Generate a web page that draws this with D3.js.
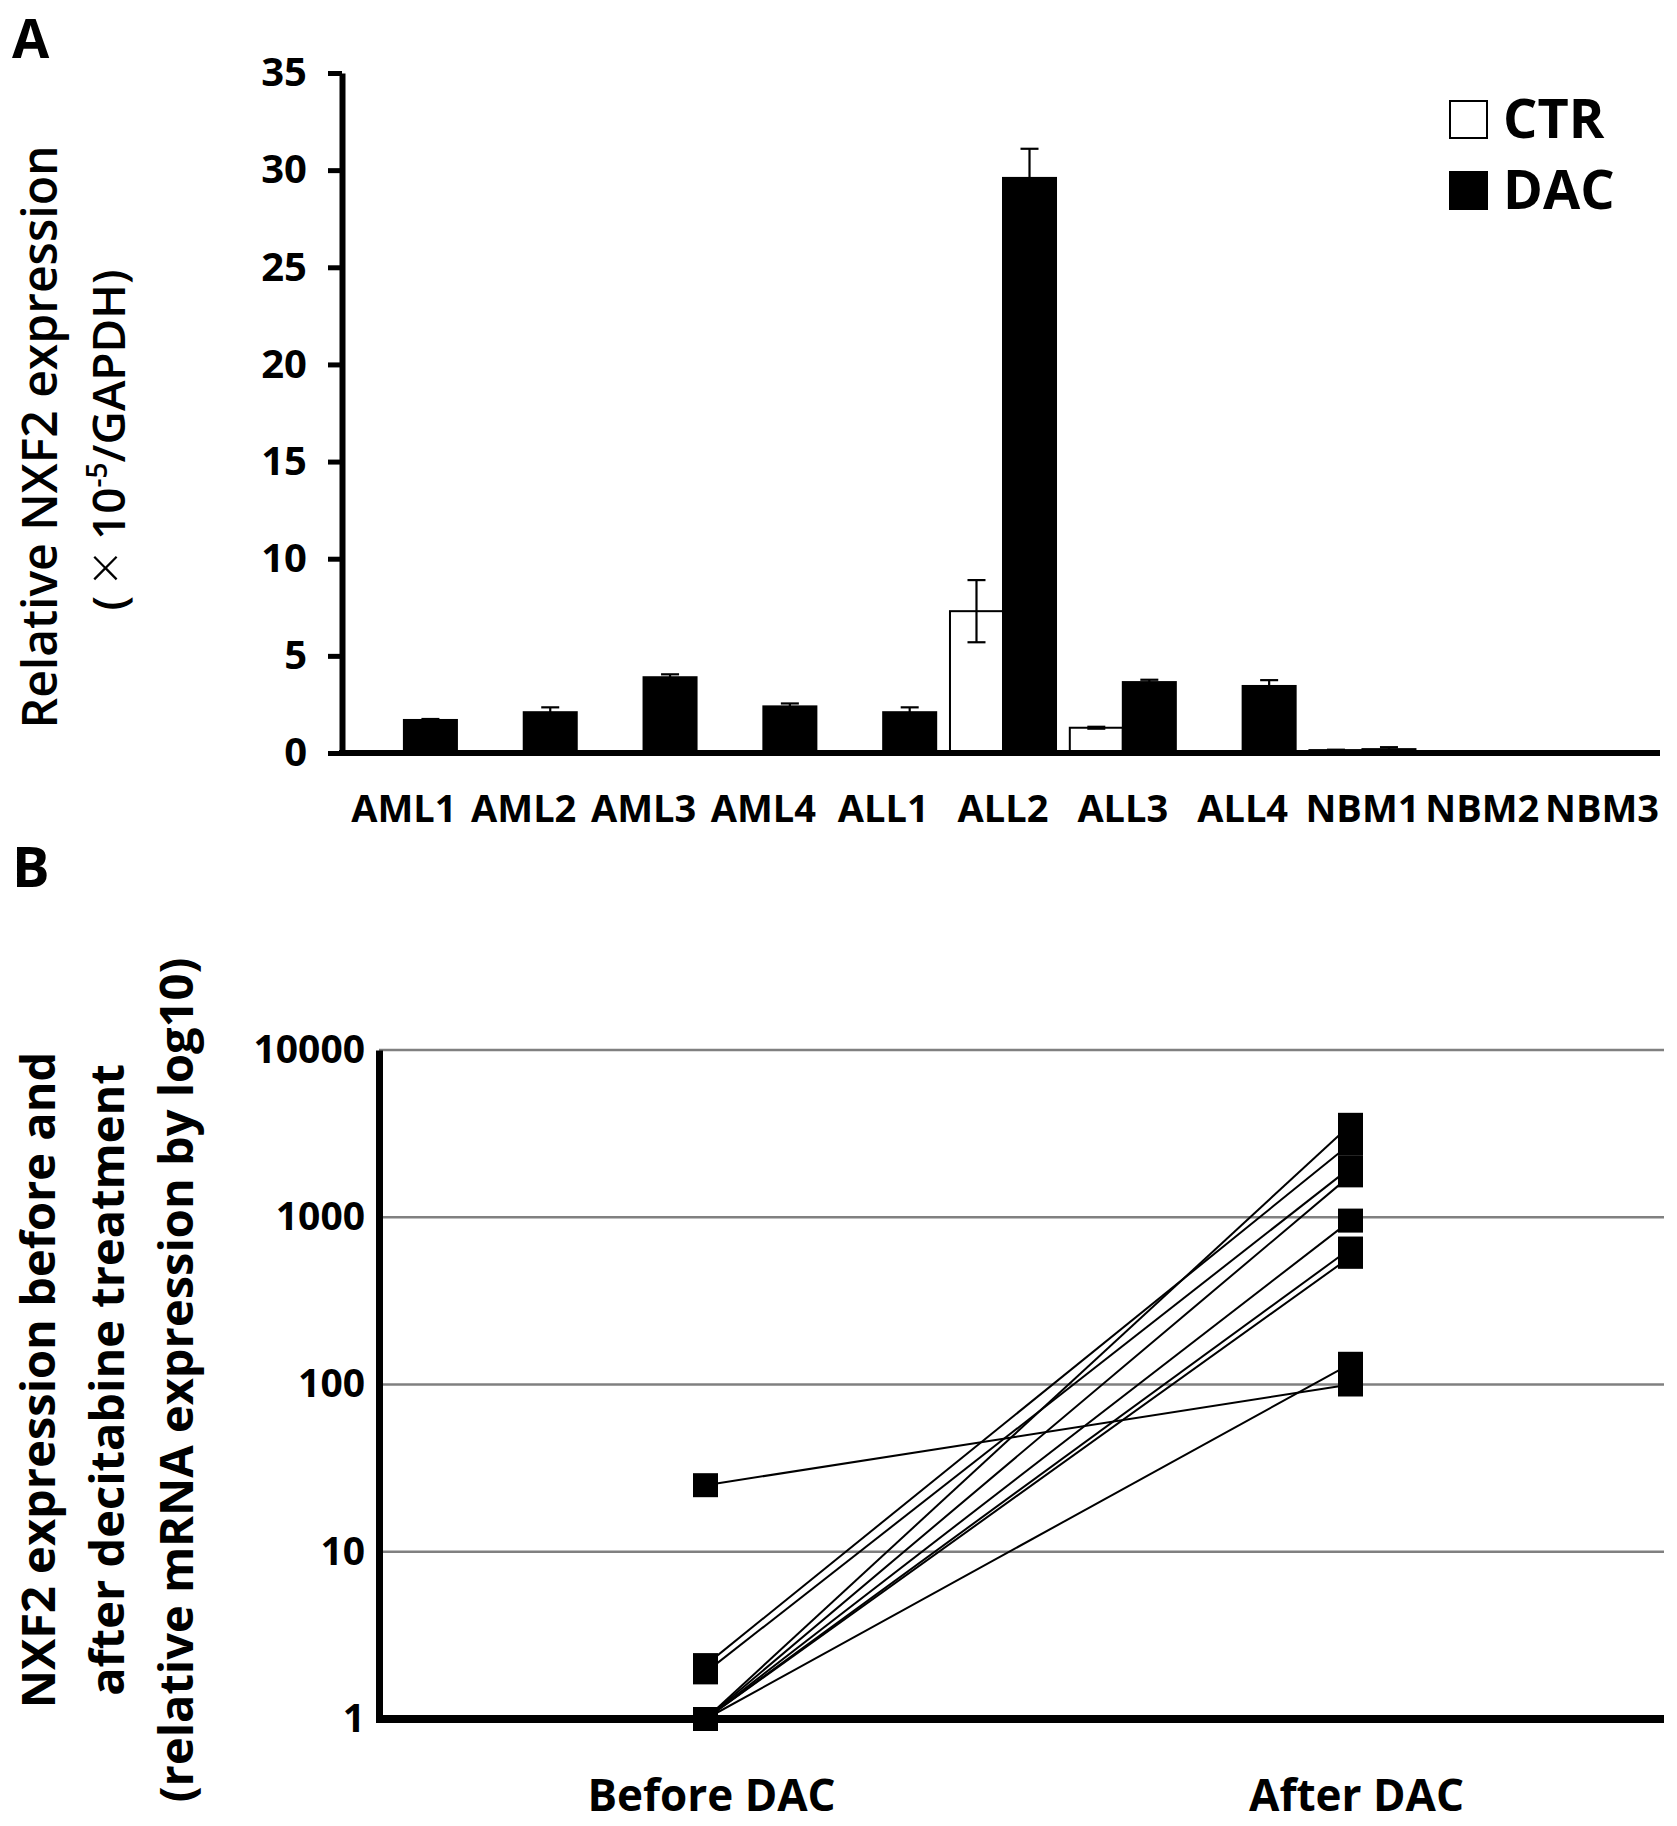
<!DOCTYPE html>
<html>
<head>
<meta charset="utf-8">
<script src="https://cdn.jsdelivr.net/npm/d3@7"></script>
<style>
  body { margin: 0; background: #fff; }
  text { font-family: "Open Sans", sans-serif; fill: #000; }
</style>
</head>
<body>
<div id="chart"></div>
<script>
// panel A: relative NXF2 expression per sample
let categories = ["AML1", "AML2", "AML3", "AML4", "ALL1", "ALL2", "ALL3", "ALL4", "NBM1", "NBM2", "NBM3"];
let ctrValues = [0, 0, 0, 0, 0, 7.3, 1.3, 0, 0.15, 0.03, 0.03];
let ctrErrors = [0, 0, 0, 0, 0, 1.6, 0.05, 0, 0.02, 0, 0];
let dacValues = [1.7, 2.1, 3.9, 2.4, 2.1, 29.6, 3.65, 3.45, 0.2, 0.04, 0.04];
let dacErrors = [0.05, 0.25, 0.15, 0.15, 0.25, 1.5, 0.12, 0.3, 0.1, 0, 0];
let seriesNames = ["CTR", "DAC"];
let yTicksA = [0, 5, 10, 15, 20, 25, 30, 35];

// panel B: before / after decitabine
let stages = ["Before DAC", "After DAC"];
let beforeValues = [25, 2.1, 1.9, 1, 1, 1, 1, 1, 1];
let afterValues = [100, 2750, 1980, 3570, 1780, 955, 650, 580, 133];
let yTicksB = [1, 10, 100, 1000, 10000];

let svg = d3.select("#chart").append("svg")
  .attr("width", 1677)
  .attr("height", 1826);

svg.append("rect")
  .attr("width", 1677)
  .attr("height", 1826)
  .attr("fill", "#fff");

// ---------- panel A ----------
let xA = d3.scaleBand()
  .domain(categories)
  .range([344, 1662]);
let xSub = d3.scaleBand()
  .domain(seriesNames)
  .range([0, xA.bandwidth()])
  .paddingOuter(0.13);
let yA = d3.scaleLinear()
  .domain([0, 35])
  .range([753, 73]);

let rows = categories.map((c, i) => ({
  cat: c,
  vals: [
    { s: "CTR", v: ctrValues[i], e: ctrErrors[i] },
    { s: "DAC", v: dacValues[i], e: dacErrors[i] }
  ]
}));

let groups = svg.selectAll(".grp")
  .data(rows)
  .enter()
  .append("g")
  .attr("class", "grp")
  .attr("transform", d => "translate(" + xA(d.cat) + ",0)");

groups.selectAll("rect")
  .data(d => d.vals)
  .enter()
  .append("rect")
  .attr("x", d => xSub(d.s))
  .attr("width", xSub.bandwidth())
  .attr("y", d => yA(d.v))
  .attr("height", d => yA(0) - yA(d.v))
  .attr("fill", d => d.s == "CTR" ? "#fff" : "#000")
  .attr("stroke", "#000")
  .attr("stroke-width", 2);

// error bars
let errs = groups.selectAll(".err")
  .data(d => d.vals.filter(v => v.e > 0))
  .enter()
  .append("g")
  .attr("class", "err")
  .attr("stroke", "#000")
  .attr("stroke-width", 2.2);
errs.append("line")
  .attr("x1", d => xSub(d.s) + xSub.bandwidth() / 2)
  .attr("x2", d => xSub(d.s) + xSub.bandwidth() / 2)
  .attr("y1", d => yA(d.v + d.e))
  .attr("y2", d => yA(Math.max(0, d.v - d.e)));
errs.append("line")
  .attr("x1", d => xSub(d.s) + xSub.bandwidth() / 2 - 9)
  .attr("x2", d => xSub(d.s) + xSub.bandwidth() / 2 + 9)
  .attr("y1", d => yA(d.v + d.e))
  .attr("y2", d => yA(d.v + d.e));
errs.append("line")
  .attr("x1", d => xSub(d.s) + xSub.bandwidth() / 2 - 9)
  .attr("x2", d => xSub(d.s) + xSub.bandwidth() / 2 + 9)
  .attr("y1", d => yA(Math.max(0, d.v - d.e)))
  .attr("y2", d => yA(Math.max(0, d.v - d.e)));

// y axis A
let yAxisA = svg.append("g")
  .attr("transform", "translate(342,0)")
  .call(d3.axisLeft(yA).tickValues(yTicksA).tickSize(14).tickSizeOuter(0).tickPadding(21));
yAxisA.select(".domain").attr("stroke-width", 6);
yAxisA.selectAll(".tick line").attr("stroke-width", 5);
yAxisA.selectAll("text")
  .attr("font-size", 40)
  .attr("font-weight", "bold")
  .attr("font-family", "Open Sans");

// x axis A
let xAxisA = svg.append("g")
  .attr("transform", "translate(0,753)")
  .call(d3.axisBottom(xA).tickSize(0).tickSizeOuter(0));
xAxisA.select(".domain").remove();
xAxisA.selectAll("text")
  .attr("y", 69)
  .attr("dy", 0)
  .attr("font-size", 38)
  .attr("font-weight", "bold")
  .attr("font-family", "Open Sans");
svg.append("line")
  .attr("x1", 339).attr("x2", 1660)
  .attr("y1", 753).attr("y2", 753)
  .attr("stroke", "#000")
  .attr("stroke-width", 6);

// legend
let legend = svg.selectAll(".leg")
  .data(seriesNames)
  .enter()
  .append("g")
  .attr("class", "leg")
  .attr("transform", (d, i) => "translate(1450," + (101 + i * 71) + ")");
legend.append("rect")
  .attr("width", 37)
  .attr("height", 37)
  .attr("fill", d => d == "CTR" ? "#fff" : "#000")
  .attr("stroke", "#000")
  .attr("stroke-width", 2);
legend.append("text")
  .attr("x", 53)
  .attr("y", 37)
  .attr("font-size", 54)
  .attr("font-weight", "bold")
  .text(d => d);

// y title A
svg.append("text")
  .attr("transform", "translate(57,437) rotate(-90)")
  .attr("text-anchor", "middle")
  .attr("font-size", 48)
  .attr("font-weight", 600)
  .text("Relative NXF2 expression");
let t2 = svg.append("text")
  .attr("transform", "translate(125,440) rotate(-90)")
  .attr("text-anchor", "middle")
  .attr("font-size", 46)
  .attr("font-weight", 600);
t2.append("tspan").text("( ");
t2.append("tspan").attr("font-weight", 300).attr("font-size", 56).text("×");
t2.append("tspan").text(" 10");
t2.append("tspan").attr("font-size", 28).attr("dy", -18).text("-5");
t2.append("tspan").attr("dy", 18).text("/GAPDH)");

// panel letters
svg.append("text")
  .attr("x", 12).attr("y", 58)
  .attr("font-size", 54)
  .attr("font-weight", "bold")
  .text("A");
svg.append("text")
  .attr("x", 12).attr("y", 887)
  .attr("font-size", 56)
  .attr("font-weight", "bold")
  .text("B");

// ---------- panel B ----------
let xB = d3.scalePoint()
  .domain(stages)
  .range([383, 1673])
  .padding(0.5);
let yB = d3.scaleLog()
  .domain([1, 10000])
  .range([1719, 1050]);

// gridlines
svg.selectAll(".grid")
  .data(yTicksB.filter(d => d > 1))
  .enter()
  .append("line")
  .attr("class", "grid")
  .attr("x1", 379).attr("x2", 1664)
  .attr("y1", d => yB(d)).attr("y2", d => yB(d))
  .attr("stroke", "#808080")
  .attr("stroke-width", 2.5);

let yAxisB = svg.append("g")
  .attr("transform", "translate(379,0)")
  .call(d3.axisLeft(yB).tickValues(yTicksB).tickFormat(d3.format("d")).tickSize(0).tickPadding(14));
yAxisB.select(".domain").attr("stroke-width", 7);
yAxisB.selectAll("text")
  .attr("font-size", 39)
  .attr("font-weight", "bold")
  .attr("font-family", "Open Sans");

// sample lines
let pairs = beforeValues.map((b, i) => ({ before: b, after: afterValues[i] }));
svg.selectAll(".pair")
  .data(pairs)
  .enter()
  .append("line")
  .attr("class", "pair")
  .attr("x1", xB(stages[0]))
  .attr("x2", xB(stages[1]))
  .attr("y1", d => yB(d.before))
  .attr("y2", d => yB(d.after))
  .attr("stroke", "#000")
  .attr("stroke-width", 2);

// markers
let pts = [];
pairs.forEach(p => {
  pts.push({ stage: stages[0], v: p.before });
  pts.push({ stage: stages[1], v: p.after });
});
svg.selectAll(".mk")
  .data(pts)
  .enter()
  .append("rect")
  .attr("class", "mk")
  .attr("x", d => xB(d.stage) - 12.5)
  .attr("y", d => yB(d.v) - 12)
  .attr("width", 25)
  .attr("height", 24)
  .attr("fill", "#000");

// x axis B
svg.append("line")
  .attr("x1", 376).attr("x2", 1664)
  .attr("y1", yB(1)).attr("y2", yB(1))
  .attr("stroke", "#000")
  .attr("stroke-width", 8);
svg.selectAll(".xlabB")
  .data(stages)
  .enter()
  .append("text")
  .attr("class", "xlabB")
  .attr("x", d => xB(d) + 6)
  .attr("y", 1811)
  .attr("text-anchor", "middle")
  .attr("font-size", 44)
  .attr("font-weight", "bold")
  .text(d => d);

// y title B
let titleB = ["NXF2 expression before and", "after decitabine treatment", "(relative mRNA expression by log10)"];
svg.selectAll(".ytB")
  .data(titleB)
  .enter()
  .append("text")
  .attr("class", "ytB")
  .attr("transform", (d, i) => "translate(" + (55 + i * 69) + ",1380) rotate(-90)")
  .attr("text-anchor", "middle")
  .attr("font-size", 47)
  .attr("font-weight", "bold")
  .text(d => d);
</script>
</body>
</html>
